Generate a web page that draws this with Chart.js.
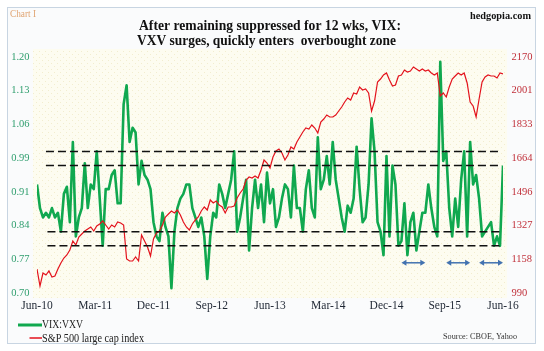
<!DOCTYPE html>
<html>
<head>
<meta charset="utf-8">
<script src="https://cdn.jsdelivr.net/npm/chart.js@4/dist/chart.umd.min.js"></script>
<style>
  html, body { margin: 0; padding: 0; background: #fff; }
  canvas { display: block; }
</style>
</head>
<body>
<canvas id="vixChart" width="544" height="351"></canvas>
<script>
// biweekly readings, Jun-2010 .. Jun-2016 (x axis is weeks since first reading)
var vixVxv = [
  0.93, 0.88, 0.86, 0.87, 0.86, 0.88, 0.86, 0.87, 0.83, 0.91,
  0.925, 0.85, 1.02, 0.82, 0.86, 0.88, 0.975, 0.88, 0.93, 0.92,
  1.00, 0.90, 0.80, 0.92, 0.92, 0.95, 0.96, 0.89, 0.89, 1.10,
  1.14, 1.02, 1.05, 1.04, 0.93, 0.98, 0.95, 0.94, 0.92, 0.85,
  0.82, 0.81, 0.87, 0.84, 0.82, 0.71, 0.83, 0.88, 0.90, 0.91,
  0.93, 0.93, 0.88, 0.86, 0.84, 0.86, 0.82, 0.73, 0.82, 0.87,
  0.86, 0.93, 0.91, 0.88, 0.91, 0.94, 1.00, 0.83, 0.86, 0.90,
  0.94, 0.79, 0.88, 0.94, 0.88, 0.93, 0.85, 0.955, 0.89, 0.92,
  0.84, 0.86, 0.90, 0.93, 0.92, 0.86, 0.97, 0.88, 0.88, 0.83,
  0.92, 0.96, 0.88, 0.86, 1.03, 0.92, 0.94, 0.99, 0.93, 1.02,
  0.94, 0.90, 0.86, 0.83, 0.885, 0.87, 0.90, 1.01, 0.92, 0.85,
  0.86, 0.93, 1.07, 1.00, 0.85, 0.83, 0.78, 0.99, 0.82, 0.97,
  0.93, 0.80, 0.81, 0.89, 0.78, 0.85, 0.87, 0.79, 0.83, 0.87,
  0.87, 0.93, 0.88, 0.84, 0.82, 1.19, 0.98, 1.00, 0.88, 0.82,
  0.90, 0.84, 0.94, 1.00, 0.82, 1.02, 0.93, 0.95, 0.90, 0.82,
  0.83, 0.84, 0.85, 0.80, 0.82, 0.80, 0.97
];
var spx = [
  1110, 1025, 1090, 1080, 1100, 1070, 1075, 1110, 1140, 1165,
  1180, 1205, 1250, 1230, 1270, 1285, 1300, 1310, 1320, 1300,
  1325, 1335, 1350, 1330, 1310, 1330, 1320, 1345, 1340, 1330,
  1160, 1150, 1150, 1170, 1150, 1280, 1250, 1220, 1175, 1260,
  1290, 1300, 1330, 1370, 1385, 1400, 1390, 1405, 1380, 1345,
  1320, 1305, 1335, 1355, 1370, 1400, 1420, 1405, 1455, 1440,
  1450, 1430, 1420, 1390, 1420, 1420, 1425, 1465, 1490, 1510,
  1555, 1570, 1565, 1575, 1565, 1605, 1655, 1640, 1615, 1670,
  1700, 1710, 1690, 1655, 1680, 1720, 1710, 1745, 1770, 1795,
  1815, 1810, 1830, 1815, 1790, 1845, 1860, 1880, 1870, 1870,
  1880, 1900, 1920, 1945, 1965, 1955, 1990, 1985, 2020, 2005,
  2010, 1990, 1900, 1950, 2045, 2060, 2080, 2090, 2055, 2025,
  2030, 2075, 2080, 2105, 2095, 2100, 2120, 2110, 2100, 2110,
  2100, 2105, 2090, 2080, 2090, 1975, 1990, 1970, 2020, 2060,
  2075, 2090, 2080, 2090, 2040, 1945, 1925, 1870, 1960, 2045,
  2070, 2080, 2075, 2075, 2065, 2090, 2085
];

var xTickLabels = ["Jun-10", "Mar-11", "Dec-11", "Sep-12", "Jun-13", "Mar-14", "Dec-14", "Sep-15", "Jun-16"];
var leftTickLabels = ["0.70", "0.77", "0.84", "0.91", "0.99", "1.06", "1.13", "1.20"];
var rightTickLabels = ["990", "1158", "1327", "1496", "1664", "1833", "2001", "2170"];

// overbought / oversold bands and the blue arrows (x in weeks)
var zoneLevels = [1.00, 0.97, 0.83, 0.80];
var zoneFrom = [6, 6, 7, 7];
var zoneTo = [309, 309, 310, 310];
var arrowSpans = [[244, 260], [274, 290], [296, 312]];
var arrowLevel = 0.764;

function pts(arr) {
  return arr.map(function (v, i) { return { x: i * 2, y: v }; });
}

var dotCanvas = document.createElement("canvas");
dotCanvas.width = 6; dotCanvas.height = 6;
var dc = dotCanvas.getContext("2d");
dc.fillStyle = "#fdfcf0"; dc.fillRect(0, 0, 6, 6);
dc.fillStyle = "#f2edcf"; dc.fillRect(0, 0, 1, 1); dc.fillRect(3, 3, 1, 1);

var decor = {
  id: "decor",
  beforeDraw: function (chart) {
    var c = chart.ctx, a = chart.chartArea;
    c.save();
    c.fillStyle = "#ffffff";
    c.fillRect(0, 0, chart.width, chart.height);
    c.fillStyle = "#fafbfc";
    c.fillRect(8, 8, 527, 335);
    c.strokeStyle = "#c8d5e2";
    c.lineWidth = 1;
    c.strokeRect(7.5, 7.5, 528, 336);
    c.fillStyle = c.createPattern(dotCanvas, "repeat");
    c.fillRect(a.left - 4, a.top - 8, a.right - a.left + 8, a.bottom - a.top + 13);
    c.restore();
  },
  afterDatasetsDraw: function (chart) {
    var c = chart.ctx, xs = chart.scales.x, ys = chart.scales.y;
    var y = ys.getPixelForValue(arrowLevel);
    c.save();
    c.strokeStyle = "#4272b0";
    c.fillStyle = "#4272b0";
    c.lineWidth = 1.5;
    arrowSpans.forEach(function (s) {
      var x0 = xs.getPixelForValue(s[0]), x1 = xs.getPixelForValue(s[1]);
      c.beginPath(); c.moveTo(x0 + 3, y); c.lineTo(x1 - 3, y); c.stroke();
      c.beginPath(); c.moveTo(x0, y); c.lineTo(x0 + 5, y - 3); c.lineTo(x0 + 5, y + 3); c.closePath(); c.fill();
      c.beginPath(); c.moveTo(x1, y); c.lineTo(x1 - 5, y - 3); c.lineTo(x1 - 5, y + 3); c.closePath(); c.fill();
    });
    c.restore();
  },
  afterDraw: function (chart) {
    var c = chart.ctx;
    c.save();
    c.textBaseline = "middle";
    // title
    c.fillStyle = "#111";
    c.textAlign = "center";
    c.font = "bold 15px 'Liberation Serif'";
    c.fillText("After remaining suppressed for 12 wks, VIX:", 270, 26, 262);
    c.fillText("VXV surges, quickly enters  overbought zone", 266.5, 41, 259);
    // corner notes
    c.textAlign = "left";
    c.font = "10px 'Liberation Serif'";
    c.fillStyle = "#e0a472";
    c.fillText("Chart I", 10, 14, 26);
    c.textAlign = "right";
    c.font = "bold 10.5px 'Liberation Serif'";
    c.fillStyle = "#111";
    c.fillText("hedgopia.com", 531, 16, 61);
    c.font = "9px 'Liberation Serif'";
    c.fillStyle = "#333";
    c.fillText("Source: CBOE, Yahoo", 517, 337, 74);
    // legend
    c.lineWidth = 3;
    c.strokeStyle = "#10a84f";
    c.beginPath(); c.moveTo(18, 325); c.lineTo(42, 325); c.stroke();
    c.lineWidth = 1.5;
    c.strokeStyle = "#e3121c";
    c.beginPath(); c.moveTo(29.5, 338); c.lineTo(42, 338); c.stroke();
    c.textAlign = "left";
    c.font = "12px 'Liberation Serif'";
    c.fillStyle = "#222";
    c.fillText("VIX:VXV", 42, 325, 41);
    c.fillText("S&P 500 large cap index", 42, 339, 102);
    c.restore();
  }
};

var datasets = [
  {
    label: "S&P 500 large cap index",
    data: pts(spx),
    yAxisID: "y1",
    borderColor: "#e3121c",
    borderWidth: 1.2,
    order: 2
  },
  {
    label: "VIX:VXV",
    data: pts(vixVxv),
    yAxisID: "y",
    borderColor: "#10a84f",
    borderWidth: 2.6,
    borderJoinStyle: "round",
    order: 3
  }
];
zoneLevels.forEach(function (lv, k) {
  datasets.push({
    label: "zone" + k,
    data: [{ x: zoneFrom[k], y: lv }, { x: zoneTo[k], y: lv }],
    yAxisID: "y",
    borderColor: "#111",
    borderWidth: 1.5,
    borderDash: [8, 4],
    order: 1
  });
});

new Chart(document.getElementById("vixChart"), {
  type: "line",
  data: { datasets: datasets },
  options: {
    responsive: false,
    animation: false,
    devicePixelRatio: 1,
    layout: { padding: { top: 57, left: 0, right: 0, bottom: 0 } },
    elements: { point: { radius: 0 }, line: { tension: 0, fill: false } },
    plugins: { legend: { display: false }, tooltip: { enabled: false }, title: { display: false } },
    scales: {
      x: {
        type: "linear",
        min: 0,
        max: 312,
        grid: { display: false, drawTicks: false },
        border: { display: false },
        afterFit: function (s) { s.height = 58; },
        afterBuildTicks: function (s) {
          s.ticks = xTickLabels.map(function (_, k) { return { value: k * 39 }; });
        },
        ticks: {
          autoSkip: false,
          maxRotation: 0,
          padding: 6,
          color: "#1e2633",
          font: { family: "'Liberation Serif'", size: 11.5 },
          callback: function (v, i) { return xTickLabels[i]; }
        }
      },
      y: {
        position: "left",
        min: 0.70,
        max: 1.20,
        grid: { display: false, drawTicks: false },
        border: { display: false },
        afterFit: function (s) { s.width = 37; },
        afterBuildTicks: function (s) {
          s.ticks = leftTickLabels.map(function (_, k) { return { value: 0.70 + k * 0.5 / 7 }; });
        },
        ticks: {
          padding: 7.5,
          color: "#2f9e6e",
          font: { family: "'Liberation Serif'", size: 10.5 },
          callback: function (v, i) { return leftTickLabels[i]; }
        }
      },
      y1: {
        position: "right",
        min: 990,
        max: 2170,
        grid: { display: false, drawTicks: false },
        border: { display: false },
        afterFit: function (s) { s.width = 41; },
        afterBuildTicks: function (s) {
          s.ticks = rightTickLabels.map(function (_, k) { return { value: 990 + k * 1180 / 7 }; });
        },
        ticks: {
          padding: 8.5,
          color: "#c0303a",
          font: { family: "'Liberation Serif'", size: 10.5 },
          callback: function (v, i) { return rightTickLabels[i]; }
        }
      }
    }
  },
  plugins: [decor]
});
</script>
</body>
</html>
